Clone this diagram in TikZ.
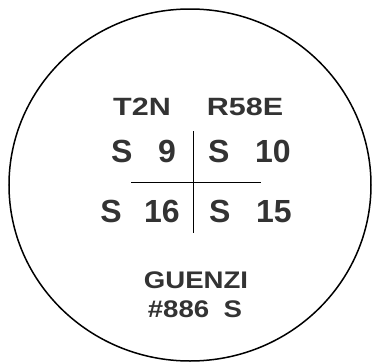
\documentclass[tikz,border=0pt]{standalone}
\usepackage{fontspec}
\setmainfont{Liberation Sans}
\newfontfamily\widefont[FakeStretch=1.15]{Liberation Sans}
\newfontfamily\widerfont[FakeStretch=1.22]{Liberation Sans}
\begin{document}
\begin{tikzpicture}[
        x=1pt, y=-1pt,
        twp/.style = {anchor=base, inner sep=0pt, text=black!80, font=\widerfont\bfseries\fontsize{25}{25}\selectfont},
        sec/.style = {anchor=base, inner sep=0pt, text=black!80, font=\bfseries\fontsize{32}{32}\selectfont},
        own/.style = {anchor=base, inner sep=0pt, text=black!80, font=\widefont\bfseries\fontsize{24}{24}\selectfont},
        rim/.style = {line width=1.5pt}
    ]
        \useasboundingbox (0,0) rectangle (373,362);

        % Le cercle
        \draw[rim] (190,185) ellipse [x radius=181, y radius=176];

        % Township et range
        \node[twp] (T) at (142,115) {T2N};
        \node[twp] (R) at (245,115) {R58E};

        % Sections
        \node[sec, anchor=base east] (S9) at (176,162) {S\hspace{0.8em}9};
        \node[sec, anchor=base west] (S10) at (208,162) {S\hspace{0.8em}10};
        \node[sec, anchor=base east] (S16) at (180,222) {S\hspace{0.7em}16};
        \node[sec, anchor=base west] (S15) at (209,222) {S\hspace{0.8em}15};

        % La croix
        \coordinate (N) at (193,131);
        \coordinate (Sd) at (193,233);
        \coordinate (W) at (131,182);
        \coordinate (E) at (261,182);
        \draw[line width=1pt] (N) -- (Sd);
        \draw[line width=1pt] (W) -- (E);

        % Propriétaire
        \node[own] (G) at (196,288) {GUENZI};
        \node[own] (No) at (195,317) {\#886\hspace{0.6em}S};

    \end{tikzpicture}
\end{document}
